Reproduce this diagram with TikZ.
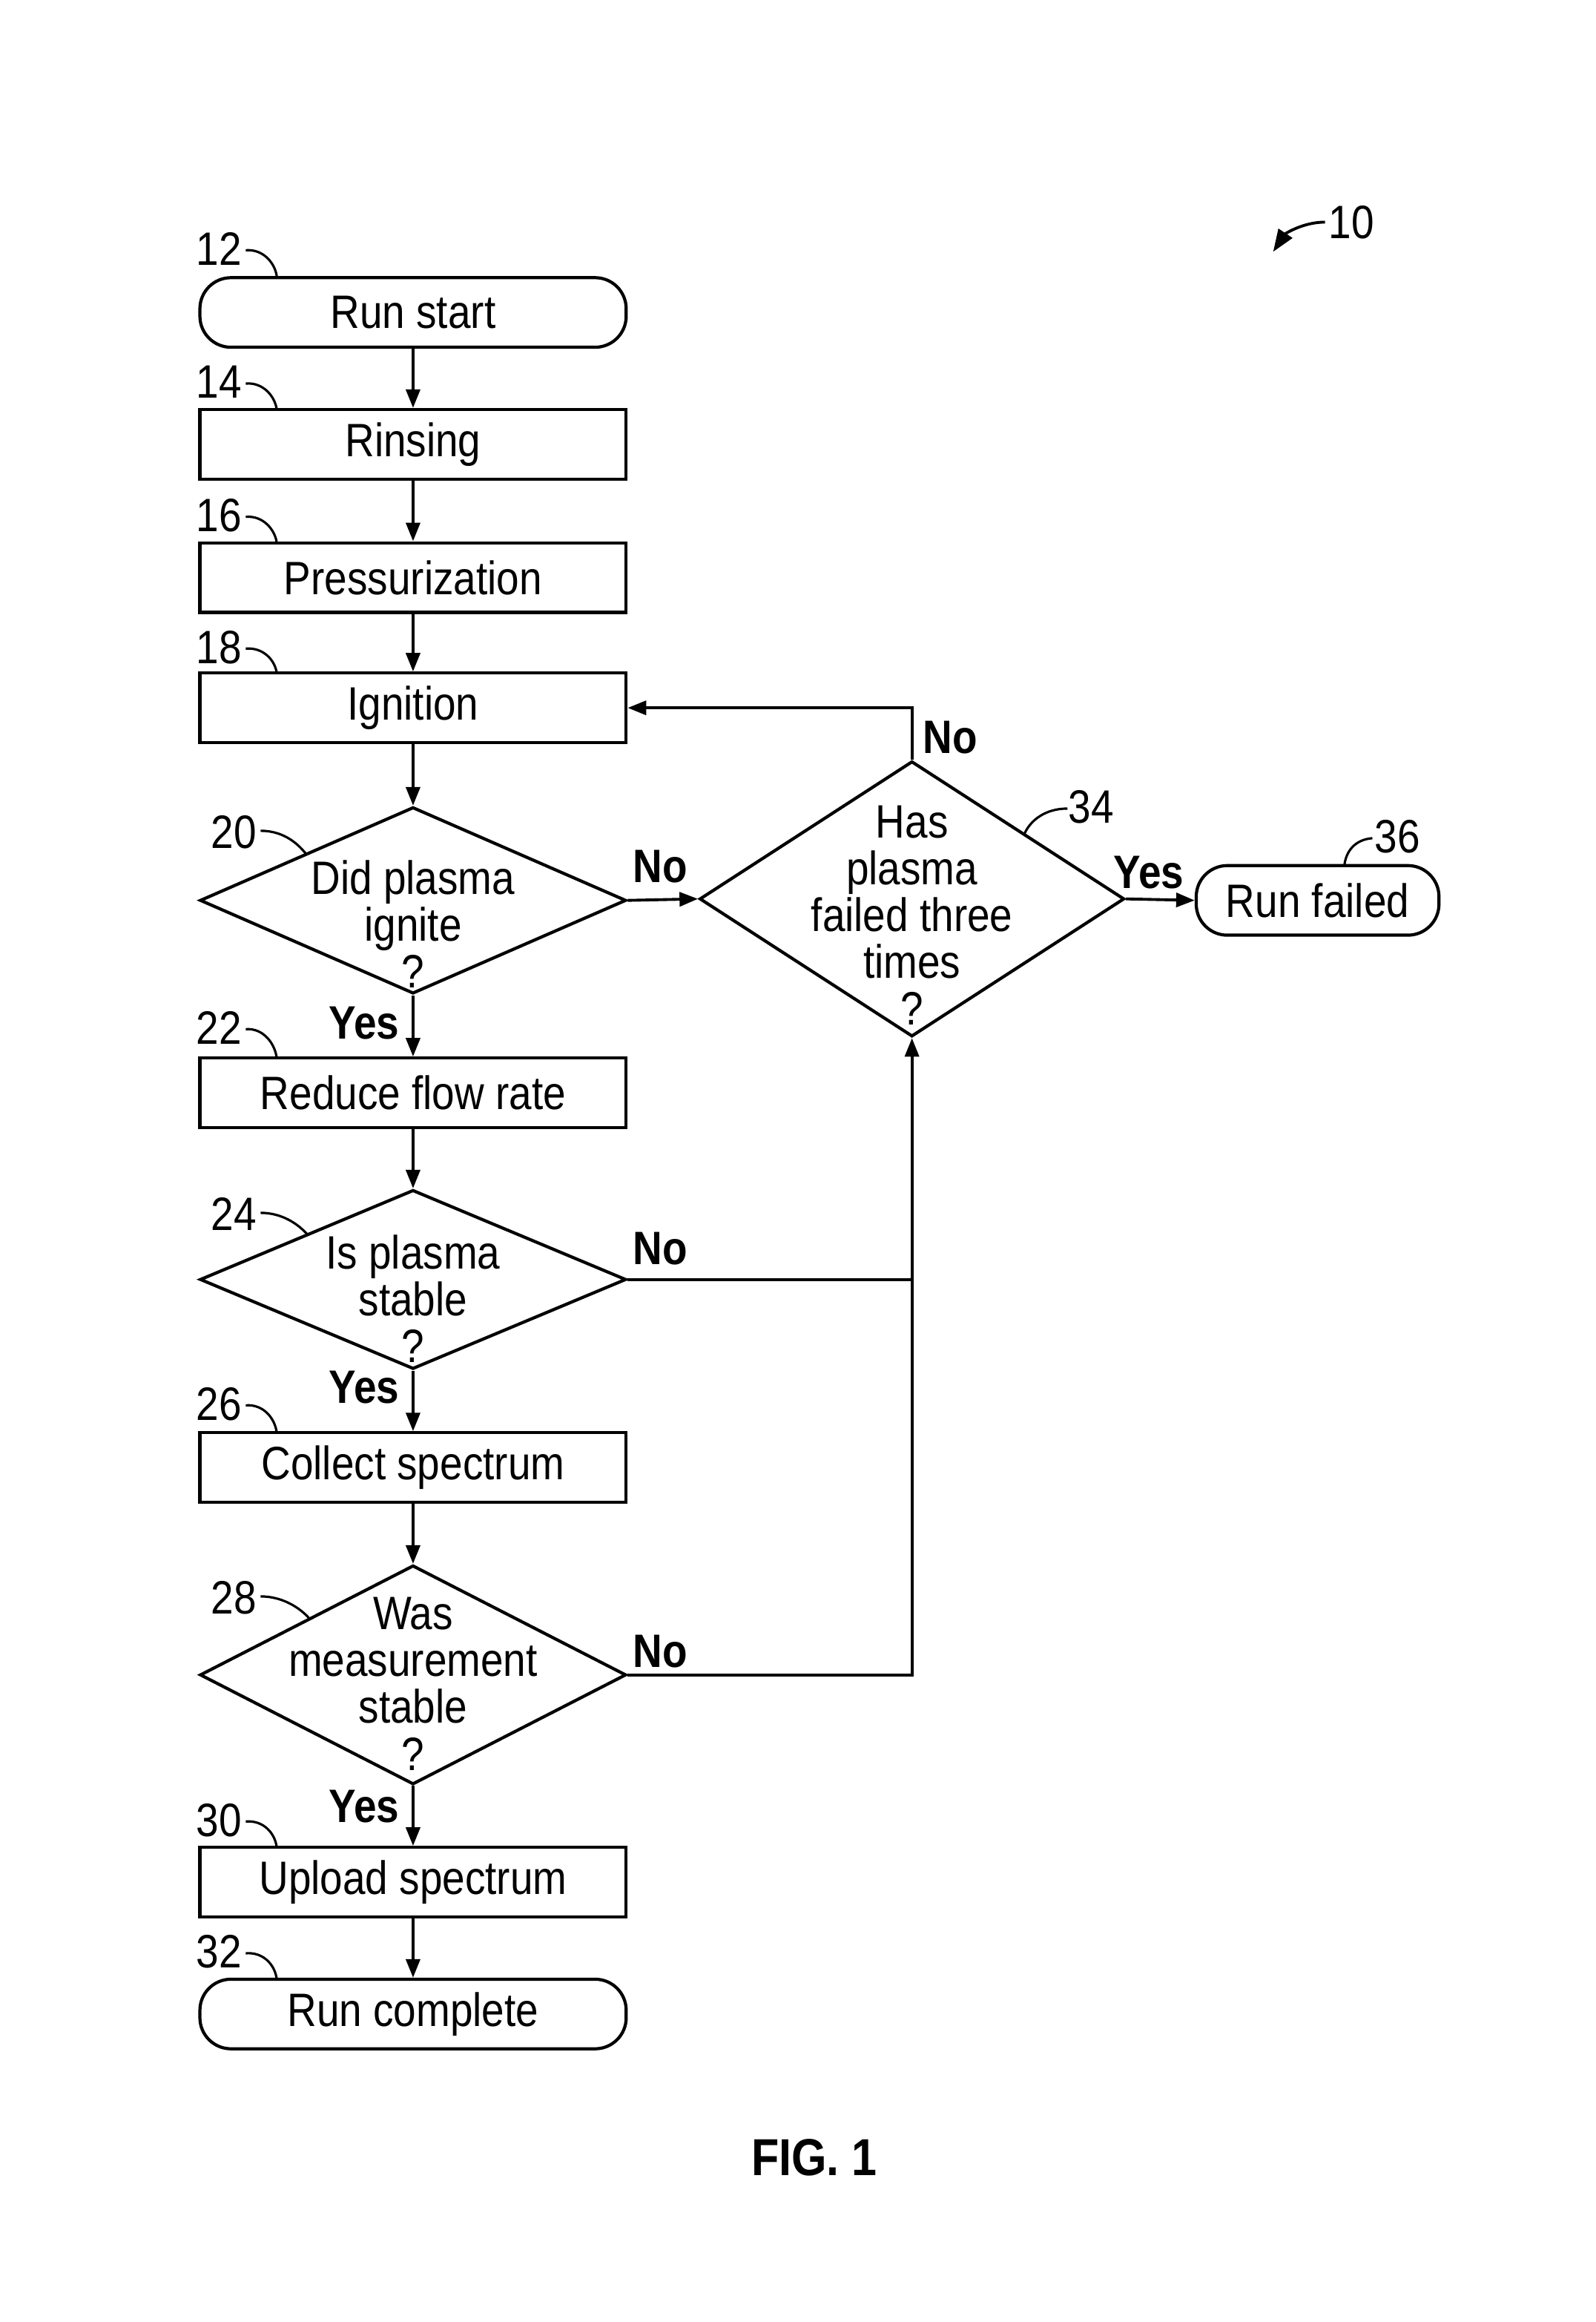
\documentclass[tikz,border=0pt]{standalone}
\usepackage{fontspec}
\setmainfont{Liberation Sans}[FakeStretch=0.87]
\usetikzlibrary{arrows.meta,shapes.geometric}
\begin{document}
\begin{tikzpicture}[x=0.02cm,y=-0.02cm,
  every node/.style={font=\fontsize{18}{18}\selectfont},
  box/.style={draw,line width=1.2pt,minimum width=5.76cm,minimum height=0.94cm,inner sep=0pt},
  term/.style={box,rounded corners=0.42cm},
  dia/.style={draw,line width=1.2pt,diamond,inner sep=0pt,minimum width=5.76cm},
  qtext/.style={align=center,inner sep=0pt},
  lbl/.style={inner sep=0pt},
  yn/.style={inner sep=0pt,font=\fontsize{18}{18}\selectfont\bfseries},
  flow/.style={line width=1.1pt,-{Triangle[length=0.25cm,width=0.19cm]}},
  plain/.style={line width=1.1pt},
  lead/.style={line width=0.9pt},
]
\fill[white] (0,0) rectangle (1078,1568);
\useasboundingbox (0,0) rectangle (1078,1568);

% main column
\node[term] (n12) at (279,211) {Run start};
\node[box] (n14) at (279,300) {Rinsing};
\node[box] (n16) at (279,390) {Pressurization};
\node[box] (n18) at (279,478) {Ignition};
\node[dia,minimum height=2.52cm] (n20) at (279,608) {};
\node[qtext] (t20) at (279,624) {Did plasma\\ignite\\?};
\node[box] (n22) at (279,738) {Reduce flow rate};
\node[dia,minimum height=2.42cm] (n24) at (279,864) {};
\node[qtext] (t24) at (279,877) {Is plasma\\stable\\?};
\node[box] (n26) at (279,991) {Collect spectrum};
\node[dia,minimum height=2.96cm] (n28) at (279,1131) {};
\node[qtext] (t28) at (279,1137) {Was\\measurement\\stable\\?};
\node[box] (n30) at (279,1271) {Upload spectrum};
\node[term] (n32) at (279,1360) {Run complete};
% right side
\node[dia,minimum width=5.74cm,minimum height=3.72cm] (n34) at (616,607) {};
\node[qtext] (t34) at (616,618) {Has\\plasma\\failed three\\times\\?};
\node[term,minimum width=3.28cm] (n36) at (890,608) {Run failed};

% reference numerals
\node[lbl] (l12) at (148,168) {12};
\node[lbl] (l14) at (148,258) {14};
\node[lbl] (l16) at (148,348) {16};
\node[lbl] (l18) at (148,437) {18};
\node[lbl] (l20) at (158,562) {20};
\node[lbl] (l22) at (148,694) {22};
\node[lbl] (l24) at (158,820) {24};
\node[lbl] (l26) at (148,948) {26};
\node[lbl] (l28) at (158,1079) {28};
\node[lbl] (l30) at (148,1229) {30};
\node[lbl] (l32) at (148,1318) {32};
\node[lbl] (l34) at (737,545) {34};
\node[lbl] (l36) at (944,565) {36};
\node[lbl] (l10) at (913,150) {10};

\draw[lead] (166,169) .. controls (178,168) and (186,178) .. (187,187);
\draw[lead] (166,259) .. controls (178,258) and (186,268) .. (187,277);
\draw[lead] (166,349) .. controls (178,348) and (186,358) .. (187,367);
\draw[lead] (166,438) .. controls (178,437) and (186,446) .. (187,455);
\draw[lead] (176,561) .. controls (190,561) and (200,568) .. (207,577);
\draw[lead] (166,695) .. controls (178,694) and (186,705) .. (187,715);
\draw[lead] (176,819) .. controls (190,819) and (201,826) .. (208,834);
\draw[lead] (166,949) .. controls (178,948) and (186,958) .. (187,968);
\draw[lead] (176,1078) .. controls (190,1078) and (202,1085) .. (209,1093);
\draw[lead] (166,1230) .. controls (178,1229) and (186,1238) .. (187,1248);
\draw[lead] (166,1319) .. controls (178,1318) and (186,1327) .. (187,1337);
\draw[lead] (721,546) .. controls (706,546) and (696,554) .. (692,563);
\draw[lead] (927,566) .. controls (915,567) and (909,575) .. (908,585);
\draw[lead,line width=1.1pt,-{Triangle[length=0.3cm,width=0.22cm]}] (895,150) .. controls (880,150) and (868,158) .. (860,170);

% flow
\draw[flow] (n12.south) -- (n14.north);
\draw[flow] (n14.south) -- (n16.north);
\draw[flow] (n16.south) -- (n18.north);
\draw[flow] (n18.south) -- (n20.north);
\draw[flow] (n20.south) -- (n22.north);
\draw[flow] (n22.south) -- (n24.north);
\draw[flow] (n24.south) -- (n26.north);
\draw[flow] (n26.south) -- (n28.north);
\draw[flow] (n28.south) -- (n30.north);
\draw[flow] (n30.south) -- (n32.north);
\draw[flow] (n20.east) -- (n34.west);
\draw[flow] (n34.east) -- (n36.west);
\draw[flow] (n34.north) |- (n18.east);
\draw[plain] (n24.east) -- (n24.east -| n34.south);
\draw[flow] (n28.east) -| (n34.south);

% yes/no labels
\node[yn] (y20) at (246,691) {Yes};
\node[yn] (y24) at (246,937) {Yes};
\node[yn] (y28) at (246,1220) {Yes};
\node[yn] (no20) at (446,585) {No};
\node[yn] (no24) at (446,843) {No};
\node[yn] (no28) at (446,1115) {No};
\node[yn] (no34) at (642,498) {No};
\node[yn] (y34) at (776,589) {Yes};

\node[font=\fontsize{20}{20}\selectfont\bfseries] (fig) at (550,1457) {FIG. 1};
\end{tikzpicture}
\end{document}
